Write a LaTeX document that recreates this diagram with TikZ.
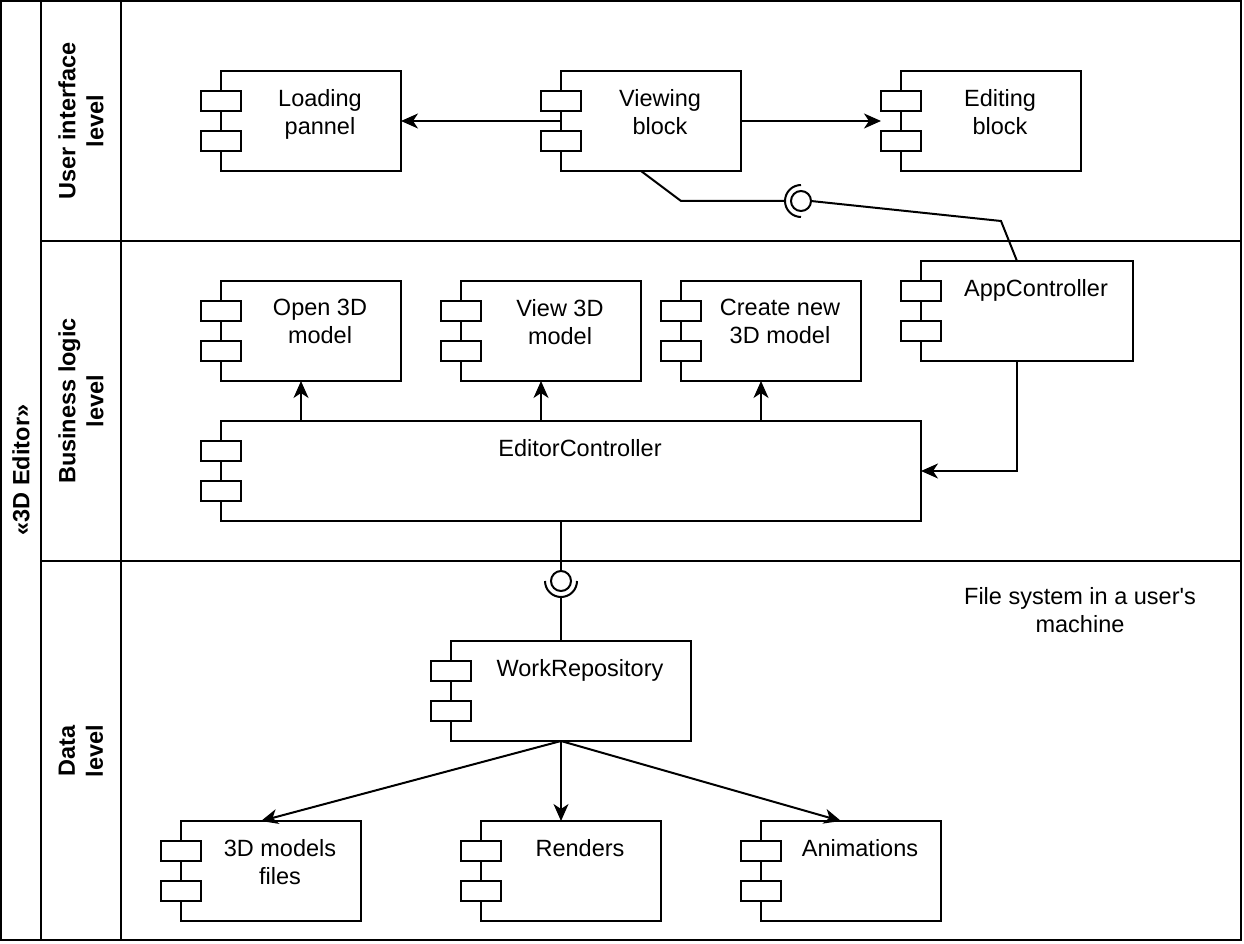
\documentclass[tikz,border=0pt]{standalone}
\usepackage{fontspec}
\setmainfont{Liberation Sans}
\usetikzlibrary{arrows.meta,calc}

% UML component: main box, two port boxes on its left edge, label near the top.
% #1 name, #2 left x, #3 top y, #4 width, #5 label
\newcommand\umlcomp[5]{%
  \node[compbox, minimum width=#4pt, anchor=north west] (#1) at (#2,#3) {};
  \node[portbox, anchor=north west] (#1-p1) at ($(#1.north west)+(-20,20)$) {};
  \node[portbox, anchor=north west] (#1-p2) at ($(#1.north west)+(-20,60)$) {};
  \coordinate (#1-top) at ($(#1.north)+(-10,0)$);
  \coordinate (#1-bot) at ($(#1.south)+(-10,0)$);
  \node[complabel, anchor=north] (#1-label) at ($(#1.north)+(9,17)$) {#5};
}

\begin{document}
\begin{tikzpicture}[x=1pt, y=-1pt, line width=2pt,
  compbox/.style={draw, fill=white, minimum height=100pt, inner sep=0pt, outer sep=0pt},
  portbox/.style={draw, fill=white, minimum width=40pt, minimum height=20pt, inner sep=0pt, outer sep=0pt},
  complabel/.style={inner sep=0pt, align=center, font=\fontsize{23.5}{28}\selectfont},
  lanelabel/.style={inner sep=0pt, align=center, rotate=90, font=\fontsize{23.5}{28}\selectfont\bfseries},
  arr/.style={-{Stealth[length=17pt, width=15pt, inset=5pt]}},
  ball/.style={draw, fill=white, circle, minimum size=20pt, inner sep=0pt, outer sep=0pt},
]
\useasboundingbox (0,0) rectangle (1244,944);

% pool frame and lanes
\draw (1,1) rectangle (1241,940);
\draw (41,1) -- (41,940);
\draw (121,1) -- (121,940);
\draw (41,241) -- (1241,241);
\draw (41,561) -- (1241,561);

\node[lanelabel] (pool-title) at (21,470) {«3D Editor»};
\node[lanelabel] (lane-ui) at (81,121) {User interface\\level};
\node[lanelabel] (lane-logic) at (81,401) {Business logic\\level};
\node[lanelabel] (lane-data) at (81,751) {Data\\level};

% user interface level
\umlcomp{loading}{221}{71}{180}{Loading\\pannel}
\umlcomp{viewing}{561}{71}{180}{Viewing\\block}
\umlcomp{editing}{901}{71}{180}{Editing\\block}

% business logic level
\umlcomp{app}{921}{261}{212}{AppController}
\umlcomp{open}{221}{281}{180}{Open 3D\\model}
\umlcomp{view}{461}{281}{180}{View 3D\\model}
\umlcomp{create}{681}{281}{180}{Create new\\3D model}
\umlcomp{editor}{221}{421}{700}{EditorController}

% data level
\umlcomp{repo}{451}{641}{240}{WorkRepository}
\umlcomp{files}{181}{821}{180}{3D models\\files}
\umlcomp{renders}{481}{821}{180}{Renders}
\umlcomp{anims}{761}{821}{180}{Animations}
\node[complabel, anchor=north] (fs-note) at (1080,586) {File system in a user\textquotesingle s\\machine};

% ball-and-socket interfaces
\node[ball] (ball-ui) at (801,201) {};
\draw ($(ball-ui.center)+(0,-16)$) arc[start angle=270, end angle=90, radius=16];
\coordinate (sock-ui) at (785,201);
\node[ball] (ball-data) at (561,581) {};
\draw ($(ball-data.center)+(-16,0)$) arc[start angle=180, end angle=0, radius=16];
\coordinate (sock-data) at (561,597);

% connectors
\draw[arr] (viewing.west) -- (loading.east);
\draw[arr] (viewing.east) -- (editing-p1.west |- editing.west);
\draw (viewing-bot) -- (681,201) -- (sock-ui);
\draw (ball-ui.east) -- (1001,221) -- (app-top);
\draw[arr] (editor.north -| open-bot) -- (open-bot);
\draw[arr] (editor.north -| view-bot) -- (view-bot);
\draw[arr] (editor.north -| create-bot) -- (create-bot);
\draw[arr] (app-bot) |- (editor.east);
\draw (editor-bot) -- (ball-data.north);
\draw (repo-top) -- (sock-data);
\draw[arr] (repo-bot) -- (files-top);
\draw[arr] (repo-bot) -- (renders-top);
\draw[arr] (repo-bot) -- (anims-top);
\end{tikzpicture}
\end{document}
